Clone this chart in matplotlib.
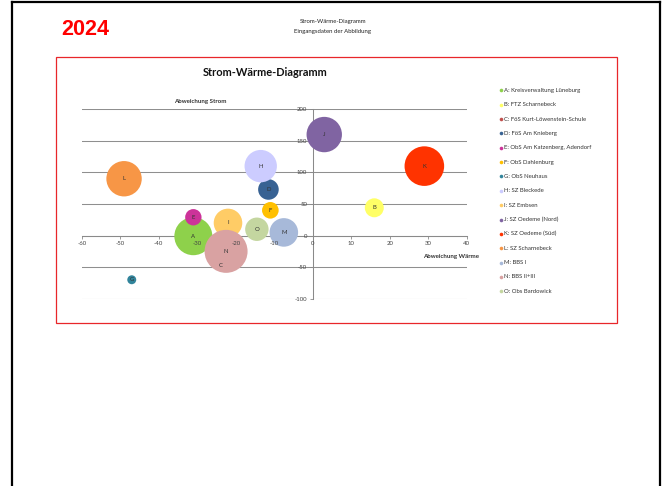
import matplotlib
matplotlib.use("Agg")
import matplotlib.pyplot as plt
from matplotlib.lines import Line2D
from matplotlib.patches import Rectangle

# ---- data ----
letters = ["A", "B", "C", "D", "E", "F", "G", "H", "I", "J", "K", "L", "M", "N", "O"]
names = ["Kreisverwaltung Lüneburg", "FTZ Scharnebeck", "FöS Kurt-Löwenstein-Schule",
         "FöS Am Knieberg", "ObS Am Katzenberg, Adendorf", "ObS Dahlenburg",
         "ObS Neuhaus", "SZ Bleckede", "SZ Embsen", "SZ Oedeme (Nord)",
         "SZ Oedeme (Süd)", "SZ Scharnebeck", "BBS I", "BBS II+III", "Obs Bardowick"]
abw_waerme = [-31, 16, -24, -11.5, -31, -11, -47, -13.5, -22, 3, 29, -49, -7.5, -22.5, -14.5]
abw_strom = [-1, 44, -47, 73, 29, 40, -70, 110, 20, 160, 110, 90, 5, -25, 10]
bubble = [361, 90, 16, 106, 67, 69, 20, 262, 204, 313, 392, 313, 204, 462, 137]
colors = ["#8ED14B", "#FFFF66", "#C0504D", "#386293", "#CC3399", "#FFC000",
          "#31849B", "#CCCCFF", "#FFCC66", "#8064A2", "#FF3300", "#F79646",
          "#A7B9D9", "#D9A2A2", "#C4D6A0"]
xticks = [-60, -50, -40, -30, -20, -10, 0, 10, 20, 30, 40]
yticks = [-100, -50, 0, 50, 100, 150, 200]

W, H = 667, 486
fig = plt.figure(figsize=(W / 100, H / 100), dpi=100)
fig.patch.set_facecolor("white")

def fx(px):
    return px / W

def fy(py):
    return 1 - py / H

# page frame (black) and chart frame (red)
fig.add_artist(Line2D([fx(11.5), fx(11.5)], [fy(2.5), 0], color="black", lw=1.6))
fig.add_artist(Line2D([fx(660), fx(660)], [fy(2.5), 0], color="black", lw=1.6))
fig.add_artist(Line2D([fx(11.5), fx(660)], [fy(2.5), fy(2.5)], color="black", lw=1.6))
fig.add_artist(Rectangle((fx(56), fy(323)), fx(617.3) - fx(56), fy(56.7) - fy(323),
                         fill=False, edgecolor="#E8262A", lw=0.9))

fig.text(fx(85.5), fy(29.5), "2024", color="#FF0000", fontsize=15.5, fontweight="bold",
         family="Liberation Sans", ha="center", va="center")
fig.text(fx(333), fy(22), "Strom-Wärme-Diagramm", fontsize=4.3, family="Lato",
         ha="center", va="center", color="#222222")
fig.text(fx(333), fy(32), "Eingangsdaten der Abbildung", fontsize=4.3, family="Lato",
         ha="center", va="center", color="#222222")

fig.text(fx(265.5), fy(72), "Strom-Wärme-Diagramm", fontsize=7.9, fontweight="bold",
         family="Lato", ha="center", va="center", color="#111111")

# axes
x0, x1, y0, y1 = 81.7, 466.7, 109.3, 298.7
rect = [fx(x0), fy(y1), fx(x1) - fx(x0), fy(y0) - fy(y1)]

def setup(a):
    a.set_xlim(-60, 40)
    a.set_ylim(-100, 200)
    a.set_facecolor("none")
    for sp in ["top", "right"]:
        a.spines[sp].set_visible(False)
    a.spines["left"].set_position(("data", 0))
    a.spines["bottom"].set_position(("data", 0))
    a.set_xticks(xticks)
    a.set_yticks(yticks)

ax = fig.add_axes(rect)
setup(ax)
for sp in ["left", "bottom"]:
    ax.spines[sp].set_color("#8A8A8A")
    ax.spines[sp].set_linewidth(0.75)
ax.tick_params(axis="both", colors="#8A8A8A", length=2.5, width=0.6,
               direction="out", labelbottom=False, labelleft=False)
ax.yaxis.grid(True, color="#8F8F8F", lw=0.75)
ax.set_axisbelow(True)

sizes = [b * (2 * 72 / 100) ** 2 for b in bubble]
for i in range(len(letters)):
    ax.scatter([abw_waerme[i]], [abw_strom[i]], s=sizes[i], c=colors[i],
               edgecolors="none", zorder=3 + i)
for i in range(len(letters)):
    ax.text(abw_waerme[i], abw_strom[i], letters[i], fontsize=4.3, family="Lato",
            ha="center", va="center", color="#333333", zorder=30)

# overlay axes for tick labels (drawn above bubbles)
ax2 = fig.add_axes(rect)
setup(ax2)
ax2.patch.set_visible(False)
for sp in ax2.spines.values():
    sp.set_visible(False)
ax2.set_xticklabels([str(v) for v in xticks])
ax2.set_yticklabels([str(v) for v in yticks])
ax2.tick_params(axis="both", labelsize=4.3, labelcolor="#444444", length=2.5,
                width=0, direction="out", pad=1.5)
for lab in ax2.get_xticklabels() + ax2.get_yticklabels():
    lab.set_family("Lato")

fig.text(fx(200.7), fy(101.3), "Abweichung Strom", fontsize=4.4, fontweight="bold",
         family="Lato", ha="center", va="center", color="#333333")
fig.text(fx(451), fy(256.7), "Abweichung Wärme", fontsize=4.4, fontweight="bold",
         family="Lato", ha="center", va="center", color="#333333")

# legend
for i in range(len(letters)):
    yy = 90.3 + i * 14.36
    fig.add_artist(Line2D([fx(501)], [fy(yy)], marker="o", markersize=2.6,
                          color=colors[i], markeredgecolor="none", linestyle="none"))
    fig.text(fx(504), fy(yy), f"{letters[i]}: {names[i]}", fontsize=4.3, family="Lato",
             ha="left", va="center", color="#333333")

fig.savefig("out.png", dpi=100, facecolor="white")
